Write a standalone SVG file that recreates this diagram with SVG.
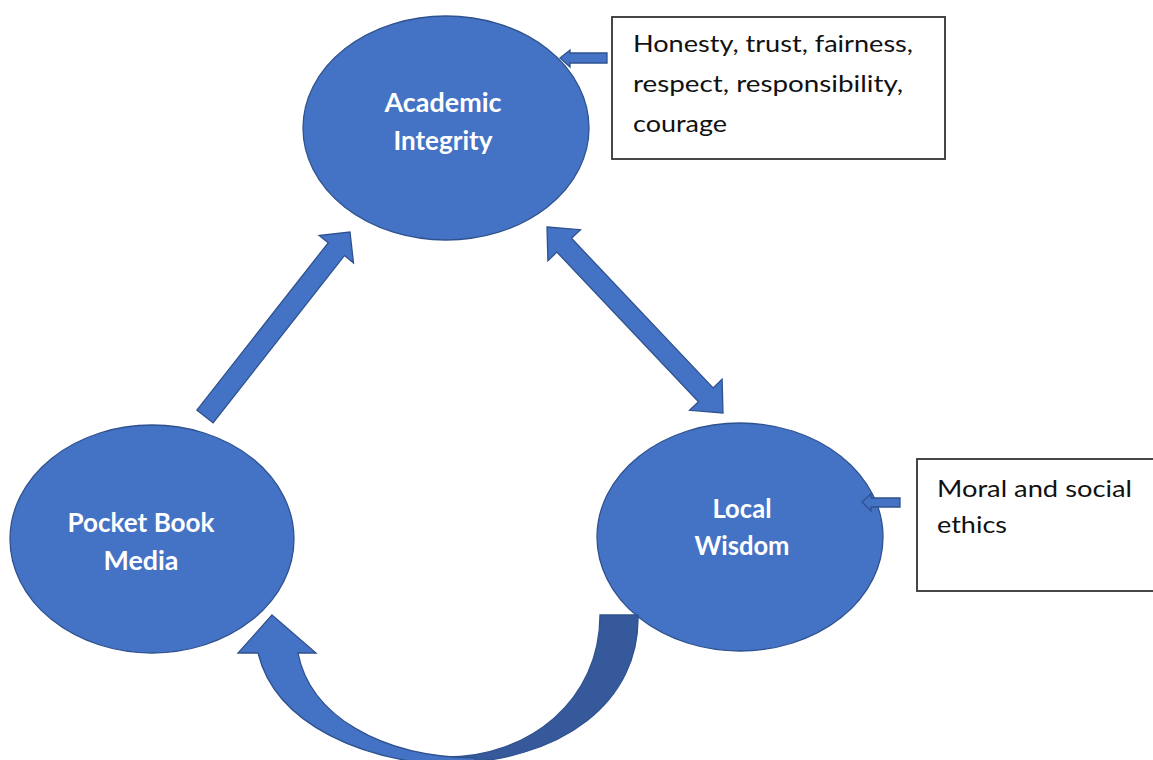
<svg xmlns="http://www.w3.org/2000/svg" width="1153" height="760" viewBox="0 0 1153 760">
<style>
.node{fill:#4472C4;stroke:#2F528F;stroke-width:1.3}
.conn{fill:#4472C4;stroke:#2F528F;stroke-width:1.3;stroke-linejoin:miter}
.dark{fill:#35599B;stroke:#2F528F;stroke-width:1.3}
.lbl{font-family:Lato,"Liberation Sans",sans-serif;font-weight:bold;font-size:26px;fill:#FFFFFF;text-anchor:middle}
.box{fill:#FFFFFF;stroke:#333333;stroke-width:1.8}
.note{font-family:Lato,"Liberation Sans",sans-serif;font-size:23px;fill:#111111}
</style>
<rect width="1153" height="760" fill="#FFFFFF"/>
<g id="academic-integrity">
<ellipse class="node" cx="446" cy="128" rx="143" ry="112"/>
<text class="lbl" x="443" y="112" textLength="117" lengthAdjust="spacingAndGlyphs">Academic</text>
<text class="lbl" x="443" y="150" textLength="99" lengthAdjust="spacingAndGlyphs">Integrity</text>
</g>
<g id="local-wisdom">
<ellipse class="node" cx="740" cy="537" rx="143" ry="114"/>
<text class="lbl" x="742" y="518" textLength="59" lengthAdjust="spacingAndGlyphs">Local</text>
<text class="lbl" x="742" y="555" textLength="95" lengthAdjust="spacingAndGlyphs">Wisdom</text>
</g>
<g id="pocket-book-media">
<ellipse class="node" cx="152" cy="539" rx="142" ry="114"/>
<text class="lbl" x="141" y="532" textLength="147" lengthAdjust="spacingAndGlyphs">Pocket Book</text>
<text class="lbl" x="141" y="570" textLength="75" lengthAdjust="spacingAndGlyphs">Media</text>
</g>
<g id="values-box">
<rect class="box" x="612" y="17" width="333" height="142"/>
<text class="note" x="633" y="52" textLength="280" lengthAdjust="spacingAndGlyphs">Honesty, trust, fairness,</text>
<text class="note" x="633" y="92" textLength="270" lengthAdjust="spacingAndGlyphs">respect, responsibility,</text>
<text class="note" x="633" y="132" textLength="94" lengthAdjust="spacingAndGlyphs">courage</text>
</g>
<g id="ethics-box">
<rect class="box" x="917" y="459" width="250" height="132"/>
<text class="note" x="937" y="497" textLength="195" lengthAdjust="spacingAndGlyphs">Moral and social</text>
<text class="note" x="937" y="533" textLength="70" lengthAdjust="spacingAndGlyphs">ethics</text>
</g>
<g id="connectors">
<polygon class="conn" points="196.9,410.1 328.2,242.8 319.1,235.5 350,232 353.5,262.9 344.4,255.6 213.1,422.9"/>
<polygon class="conn" points="547,227 580.5,229.7 571.5,238.3 713.1,387.9 722.1,379.3 723,413 689.5,410.3 698.5,401.7 556.9,252.1 547.9,260.7"/>
<polygon class="conn" points="560,58 570,50 570,53 607,53 607,63 570,63 570,67"/>
<polygon class="conn" points="862,502 871,494 871,498 900,498 900,507 871,507 871,511"/>
<path class="dark" d="M638,615 C640,700 565,763 440,764 L445,757 C530,757 600,700 600,615 Z"/>
<path class="conn" d="M272,615 L316,653 L298,653 C310,715 380,757 475,758 L475,766 C360,766 275,722 258,653 L238,653 Z"/>
</g>
</svg>
